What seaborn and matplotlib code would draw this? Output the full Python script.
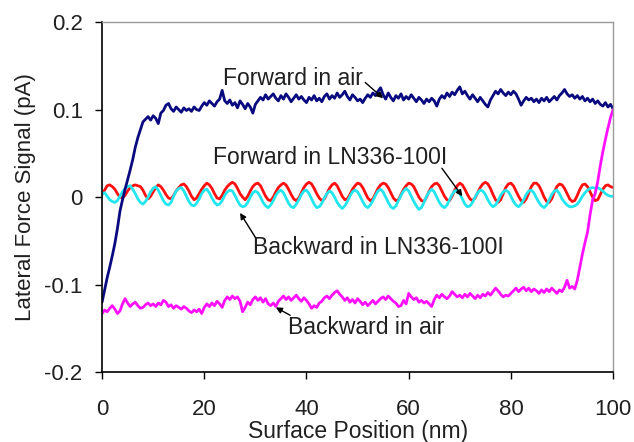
import matplotlib
matplotlib.use("Agg")
import matplotlib.pyplot as plt
import numpy as np
import pandas as pd
import seaborn as sns

# surface position grid, 0.5 nm steps
position_nm = np.arange(0, 100.01, 0.5)

forward_air = [
    -0.120, -0.106, -0.092, -0.080, -0.067, -0.053, -0.036, -0.016, -0.003, 0.009,
    0.020, 0.031, 0.043, 0.057, 0.068, 0.077, 0.086, 0.089, 0.092, 0.088,
    0.093, 0.090, 0.084, 0.096, 0.099, 0.105, 0.107, 0.101, 0.098, 0.103,
    0.100, 0.097, 0.102, 0.099, 0.101, 0.098, 0.103, 0.100, 0.099, 0.104,
    0.108, 0.105, 0.110, 0.107, 0.104, 0.109, 0.112, 0.122, 0.110, 0.107,
    0.111, 0.105, 0.108, 0.102, 0.110, 0.106, 0.101, 0.107, 0.103, 0.096,
    0.106, 0.110, 0.114, 0.111, 0.117, 0.112, 0.115, 0.118, 0.113, 0.110,
    0.116, 0.112, 0.118, 0.114, 0.109, 0.113, 0.117, 0.112, 0.115, 0.111,
    0.108, 0.114, 0.111, 0.116, 0.110, 0.113, 0.109, 0.115, 0.118, 0.112,
    0.116, 0.113, 0.119, 0.114, 0.117, 0.121, 0.115, 0.111, 0.117, 0.114,
    0.110, 0.112, 0.108, 0.113, 0.117, 0.114, 0.119, 0.116, 0.121, 0.125,
    0.117, 0.112, 0.119, 0.114, 0.110, 0.116, 0.113, 0.118, 0.111, 0.115,
    0.112, 0.117, 0.113, 0.109, 0.114, 0.111, 0.107, 0.112, 0.109, 0.113,
    0.110, 0.104, 0.112, 0.116, 0.113, 0.119, 0.115, 0.120, 0.117, 0.122,
    0.126, 0.118, 0.121, 0.116, 0.112, 0.117, 0.113, 0.109, 0.114, 0.110,
    0.106, 0.103, 0.111, 0.116, 0.121, 0.118, 0.123, 0.119, 0.116, 0.120,
    0.117, 0.121, 0.118, 0.112, 0.105, 0.110, 0.114, 0.111, 0.113, 0.109,
    0.112, 0.108, 0.113, 0.110, 0.114, 0.109, 0.112, 0.115, 0.111, 0.116,
    0.119, 0.123, 0.118, 0.115, 0.117, 0.113, 0.116, 0.112, 0.115, 0.110,
    0.113, 0.109, 0.112, 0.107, 0.110, 0.106, 0.104, 0.108, 0.103, 0.106,
    0.101,
]

backward_air = [
    -0.133, -0.129, -0.131, -0.127, -0.124, -0.128, -0.133, -0.130, -0.122, -0.116,
    -0.121, -0.125, -0.122, -0.120, -0.124, -0.127, -0.126, -0.123, -0.121, -0.124,
    -0.122, -0.125, -0.121, -0.123, -0.118, -0.120, -0.125, -0.123, -0.127, -0.124,
    -0.126, -0.128, -0.125, -0.127, -0.130, -0.132, -0.129, -0.131, -0.128, -0.133,
    -0.126, -0.122, -0.125, -0.121, -0.124, -0.119, -0.122, -0.126, -0.118, -0.114,
    -0.117, -0.113, -0.116, -0.114, -0.119, -0.131, -0.126, -0.120, -0.123, -0.117,
    -0.114, -0.118, -0.115, -0.120, -0.116, -0.122, -0.124, -0.121, -0.125, -0.119,
    -0.116, -0.113, -0.117, -0.114, -0.118, -0.115, -0.112, -0.116, -0.119, -0.115,
    -0.118, -0.122, -0.127, -0.124, -0.126, -0.121, -0.119, -0.115, -0.113, -0.116,
    -0.112, -0.109, -0.107, -0.111, -0.114, -0.118, -0.115, -0.120, -0.117, -0.121,
    -0.116, -0.119, -0.123, -0.120, -0.124, -0.121, -0.118, -0.122, -0.119, -0.116,
    -0.114, -0.117, -0.113, -0.116, -0.119, -0.121, -0.125, -0.124, -0.118, -0.122,
    -0.110, -0.114, -0.117, -0.115, -0.120, -0.118, -0.121, -0.119, -0.122, -0.125,
    -0.117, -0.112, -0.115, -0.111, -0.114, -0.116, -0.113, -0.108, -0.111, -0.114,
    -0.112, -0.115, -0.111, -0.114, -0.110, -0.113, -0.116, -0.112, -0.115, -0.111,
    -0.113, -0.109, -0.112, -0.108, -0.104, -0.107, -0.111, -0.114, -0.112, -0.113,
    -0.110, -0.107, -0.104, -0.108, -0.105, -0.103, -0.107, -0.104, -0.108, -0.105,
    -0.107, -0.110, -0.106, -0.109, -0.105, -0.108, -0.104, -0.107, -0.110, -0.106,
    -0.108, -0.103, -0.095, -0.104, -0.102, -0.105, -0.095, -0.080, -0.065, -0.052,
    -0.040, -0.020, -0.003, 0.004, 0.018, 0.036, 0.052, 0.066, 0.079, 0.091,
    0.100,
]

forward_ln = [
    0.003, 0.008, 0.013, 0.014, 0.012, 0.009, 0.004, 0.000, -0.001, 0.002,
    0.007, 0.011, 0.013, 0.014, 0.013, 0.012, 0.008, 0.002, -0.002, 0.001,
    0.006, 0.011, 0.014, 0.012, 0.008, 0.003, -0.001, -0.002, 0.002, 0.007,
    0.011, 0.014, 0.015, 0.012, 0.007, 0.001, -0.003, -0.001, 0.004, 0.009,
    0.013, 0.016, 0.014, 0.010, 0.004, -0.001, -0.002, 0.002, 0.008, 0.012,
    0.015, 0.017, 0.015, 0.010, 0.004, 0.000, -0.003, 0.001, 0.007, 0.012,
    0.015, 0.016, 0.013, 0.007, 0.001, -0.003, -0.004, 0.000, 0.006, 0.011,
    0.014, 0.016, 0.014, 0.009, 0.003, -0.002, -0.004, -0.001, 0.005, 0.011,
    0.015, 0.017, 0.015, 0.010, 0.004, -0.001, -0.004, -0.002, 0.004, 0.010,
    0.014, 0.016, 0.013, 0.007, 0.001, -0.003, -0.002, 0.003, 0.009, 0.013,
    0.016, 0.015, 0.011, 0.005, -0.001, -0.004, -0.002, 0.004, 0.010, 0.014,
    0.016, 0.015, 0.011, 0.005, -0.001, -0.004, -0.003, 0.003, 0.009, 0.013,
    0.016, 0.015, 0.012, 0.006, 0.000, -0.004, -0.005, 0.000, 0.007, 0.012,
    0.015, 0.016, 0.013, 0.007, 0.001, -0.003, -0.004, 0.001, 0.008, 0.013,
    0.016, 0.014, 0.009, 0.003, -0.002, -0.004, -0.001, 0.005, 0.011, 0.015,
    0.017, 0.015, 0.010, 0.003, -0.003, -0.006, -0.003, 0.004, 0.011, 0.015,
    0.016, 0.013, 0.007, 0.001, -0.004, -0.006, -0.002, 0.005, 0.012, 0.016,
    0.016, 0.013, 0.007, 0.000, -0.005, -0.006, -0.002, 0.006, 0.012, 0.015,
    0.014, 0.010, 0.004, -0.002, -0.005, -0.004, 0.002, 0.009, 0.014, 0.015,
    0.012, 0.006, 0.000, -0.004, -0.003, 0.003, 0.009, 0.013, 0.014, 0.012,
    0.011,
]

backward_ln = [
    0.004, 0.005, 0.001, -0.003, -0.005, -0.006, -0.004, 0.001, 0.006, 0.010,
    0.012, 0.013, 0.009, 0.004, -0.002, -0.006, -0.008, -0.005, 0.000, 0.006,
    0.010, 0.012, 0.008, 0.002, -0.004, -0.008, -0.009, -0.006, 0.001, 0.007,
    0.010, 0.011, 0.007, 0.001, -0.005, -0.009, -0.010, -0.007, -0.002, 0.004,
    0.008, 0.009, 0.005, -0.001, -0.006, -0.009, -0.008, -0.004, 0.002, 0.006,
    0.008, 0.007, 0.002, -0.004, -0.009, -0.011, -0.010, -0.006, 0.000, 0.005,
    0.007, 0.005, 0.000, -0.006, -0.010, -0.012, -0.009, -0.004, 0.002, 0.006,
    0.008, 0.005, -0.001, -0.007, -0.011, -0.012, -0.008, -0.003, 0.003, 0.007,
    0.008, 0.004, -0.002, -0.008, -0.012, -0.011, -0.007, -0.001, 0.004, 0.007,
    0.005, 0.000, -0.006, -0.010, -0.013, -0.010, -0.005, 0.001, 0.006, 0.008,
    0.006, 0.001, -0.005, -0.010, -0.012, -0.009, -0.004, 0.002, 0.007, 0.009,
    0.006, 0.000, -0.006, -0.011, -0.013, -0.010, -0.004, 0.002, 0.007, 0.010,
    0.007, 0.001, -0.005, -0.010, -0.014, -0.012, -0.006, 0.001, 0.006, 0.009,
    0.006, 0.000, -0.006, -0.010, -0.012, -0.009, -0.003, 0.003, 0.007, 0.008,
    0.004, -0.002, -0.008, -0.011, -0.010, -0.006, 0.000, 0.005, 0.008, 0.007,
    0.003, -0.003, -0.008, -0.011, -0.009, -0.004, 0.002, 0.006, 0.008, 0.006,
    0.001, -0.005, -0.009, -0.011, -0.008, -0.003, 0.003, 0.007, 0.008, 0.005,
    -0.001, -0.006, -0.010, -0.012, -0.009, -0.003, 0.003, 0.007, 0.008, 0.004,
    -0.002, -0.006, -0.009, -0.011, -0.011, -0.010, -0.008, -0.004, 0.001, 0.005,
    0.008, 0.010, 0.011, 0.010, 0.011, 0.009, 0.007, 0.004, 0.002, 0.001,
    0.001,
]

series_names = ["Forward in LN336-100I", "Backward in LN336-100I", "Forward in air", "Backward in air"]
series_values = [forward_ln, backward_ln, forward_air, backward_air]
series_colors = ["#ff1010", "#22e6ee", "#0a0a80", "#ff10ff"]

xticks = [0, 20, 40, 60, 80, 100]
yticks = [-0.2, -0.1, 0, 0.1, 0.2]
ytick_labels = ["-0.2", "-0.1", "0", "0.1", "0.2"]

# text label (left, middle) and arrow tail -> head, in data units
notes = [
    ("Forward in air", (23.7, 0.136), (51.5, 0.131), (55.0, 0.113)),
    ("Forward in LN336-100I", (21.7, 0.045), (66.5, 0.033), (70.5, 0.001)),
    ("Backward in LN336-100I", (29.5, -0.057), (30.0, -0.046), (27.0, -0.018)),
    ("Backward in air", (36.4, -0.149), (36.8, -0.135), (34.0, -0.126)),
]

sns.set_theme(style="white")
plt.rcParams["font.family"] = ["Liberation Sans", "DejaVu Sans"]
plt.rcParams["axes.unicode_minus"] = False

fig = plt.figure(figsize=(6.34, 4.42), dpi=100)
ax = fig.add_axes([0.161, 0.158, 0.806, 0.792])

for name, vals, col in zip(series_names, series_values, series_colors):
    df = pd.DataFrame({"x": position_nm, "y": vals})
    sns.lineplot(data=df, x="x", y="y", color=col, lw=2.0, ax=ax, legend=False)

for label, txt_pos, tail, head in notes:
    ax.text(txt_pos[0], txt_pos[1], label, ha="left", va="center", fontsize=16.5, color="#202020")
    ax.annotate("", xy=head, xytext=tail,
                arrowprops=dict(arrowstyle="-|>", color="black", lw=1.0,
                                mutation_scale=9, shrinkA=0, shrinkB=0))

ax.set_xlim(0, 100)
ax.set_ylim(-0.2, 0.2)
ax.set_xticks(xticks)
ax.set_yticks(yticks)
ax.set_yticklabels(ytick_labels)
ax.tick_params(axis="both", labelsize=16, labelcolor="#202020", direction="out",
               length=5, width=1, color="black", left=True, bottom=True)
ax.tick_params(axis="x", pad=14)
ax.tick_params(axis="y", pad=9)
ax.set_xlabel("Surface Position (nm)", fontsize=16.5, color="#202020", labelpad=0)
ax.set_ylabel("Lateral Force Signal (pA)", fontsize=16, color="#202020", labelpad=6)

for side in ["left", "bottom"]:
    ax.spines[side].set_color("black")
    ax.spines[side].set_linewidth(1.2)
for side in ["top", "right"]:
    ax.spines[side].set_color("#9a9a9a")
    ax.spines[side].set_linewidth(1.0)

fig.savefig("out.png", dpi=100)
